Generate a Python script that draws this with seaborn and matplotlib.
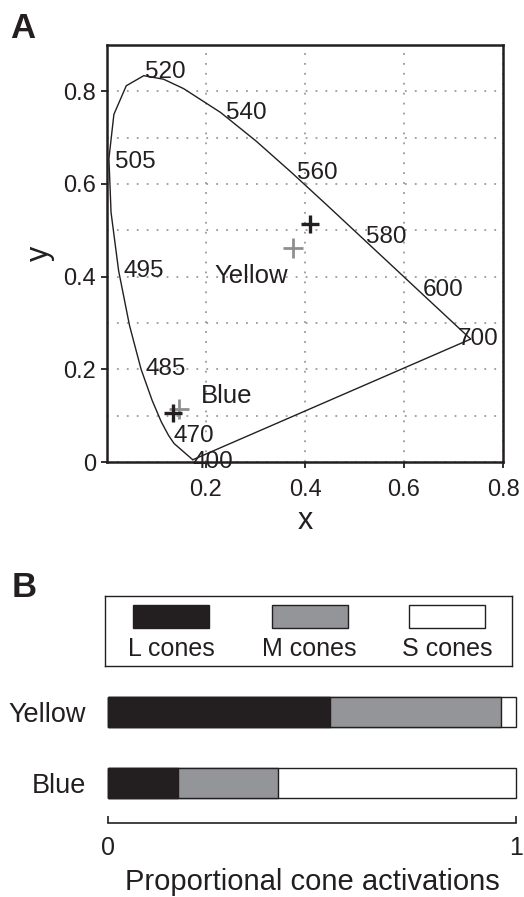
import numpy as np
import pandas as pd
import seaborn as sns
import matplotlib
matplotlib.use("Agg")
import matplotlib.pyplot as plt
from matplotlib.ticker import MultipleLocator, FixedLocator
from matplotlib.patches import Rectangle

# ---------------- data ----------------
wavelengths = [400, 465, 470, 475, 480, 485, 490, 495, 500, 505, 510, 515, 520,
               525, 530, 540, 550, 560, 570, 580, 590, 600, 620, 640, 700]
locus_x = [0.1733, 0.1355, 0.1241, 0.1096, 0.0913, 0.0687, 0.0454, 0.0235, 0.0082,
           0.0039, 0.0139, 0.0389, 0.0743, 0.1142, 0.1547, 0.2296, 0.3016, 0.3731,
           0.4441, 0.5125, 0.5752, 0.6270, 0.6915, 0.7190, 0.7347]
locus_y = [0.0048, 0.0399, 0.0578, 0.0868, 0.1327, 0.2007, 0.2950, 0.4127, 0.5384,
           0.6548, 0.7502, 0.8120, 0.8338, 0.8262, 0.8059, 0.7543, 0.6923, 0.6245,
           0.5547, 0.4866, 0.4242, 0.3725, 0.3083, 0.2809, 0.2653]
label_wavelengths = [400, 470, 485, 495, 505, 520, 540, 560, 580, 600, 700]

stimulus_names = ["Yellow", "Blue"]
stim_x_black = [0.410, 0.134]
stim_y_black = [0.514, 0.105]
stim_x_gray = [0.376, 0.146]
stim_y_gray = [0.462, 0.114]

cone_names = ["L cones", "M cones", "S cones"]
L_act = [0.545, 0.172]
M_act = [0.418, 0.245]
S_act = [0.037, 0.583]

x_ticks = [0.2, 0.4, 0.6, 0.8]
x_ticklabels = ["0.2", "0.4", "0.6", "0.8"]
y_ticks = [0, 0.2, 0.4, 0.6, 0.8]
y_ticklabels = ["0", "0.2", "0.4", "0.6", "0.8"]
bar_ticks = [0, 1]
bar_ticklabels = ["0", "1"]

# ---------------- style ----------------
sns.set_theme(style="white")
plt.rcParams["font.family"] = ["Liberation Sans", "DejaVu Sans"]
DARK = "#231f20"
GRAY = "#939598"
CROSS_GRAY = "#8f8f8f"

fig = plt.figure(figsize=(5.24, 8.97), dpi=100)

# ---------------- panel A ----------------
ax = fig.add_axes([107 / 524, 1 - 462 / 897, 396 / 524, 417 / 897])
ax.set_xlim(0, 0.8)
ax.set_ylim(0, 0.9)

locus = pd.DataFrame({"x": locus_x, "y": locus_y, "nm": wavelengths})
sns.lineplot(data=locus, x="x", y="y", sort=False, estimator=None,
             color=DARK, lw=1.0, ax=ax)
purple = locus.iloc[[len(locus) - 1, 0]]
sns.lineplot(data=purple, x="x", y="y", sort=False, estimator=None,
             color=DARK, lw=1.0, ax=ax)

offsets = {520: (0.003, -0.004, "baseline"), 700: (-0.026, 0.0, "center"),
           400: (0.0, -0.018, "baseline"), 505: (0.012, -0.021, "baseline")}
for nm in label_wavelengths:
    row = locus[locus["nm"] == nm].iloc[0]
    dx, dy, va = offsets.get(nm, (0.010, -0.014, "baseline"))
    ax.text(row["x"] + dx, row["y"] + dy, str(nm), fontsize=17.5,
            ha="left", va=va, color=DARK, zorder=5)

sns.scatterplot(x=stim_x_gray, y=stim_y_gray, marker="+", s=190, color=CROSS_GRAY,
                linewidth=2.0, ax=ax, zorder=6)
sns.scatterplot(x=stim_x_black, y=stim_y_black, marker="+", s=170, color=DARK,
                linewidth=2.4, ax=ax, zorder=7)

ax.text(0.218, 0.387, stimulus_names[0], fontsize=18.5, ha="left", va="baseline", color=DARK)
ax.text(0.190, 0.127, stimulus_names[1], fontsize=18.5, ha="left", va="baseline", color=DARK)

ax.xaxis.set_major_locator(FixedLocator(x_ticks))
ax.set_xticklabels(x_ticklabels)
ax.yaxis.set_major_locator(FixedLocator(y_ticks))
ax.set_yticklabels(y_ticklabels)
ax.yaxis.set_minor_locator(MultipleLocator(0.1))
ax.tick_params(axis="both", which="major", direction="out", length=4, width=1.3,
               labelsize=17, colors=DARK, bottom=True, left=True)
ax.tick_params(axis="x", pad=8)
ax.tick_params(axis="y", pad=4)
ax.tick_params(axis="y", which="minor", length=0)
ax.grid(True, axis="x", which="major", color="#9a9a9a", lw=1.3, linestyle=(0, (1, 4.5)))
ax.grid(True, axis="y", which="both", color="#9a9a9a", lw=1.3, linestyle=(0, (1, 4.5)))
ax.set_axisbelow(True)
for sp in ax.spines.values():
    sp.set_visible(True)
    sp.set_color(DARK)
    sp.set_linewidth(1.8)
ax.set_xlabel("x", fontsize=22, labelpad=4, color=DARK)
ax.set_ylabel("y", fontsize=22, labelpad=6, color=DARK)

fig.text(10 / 524, 1 - 38 / 897, "A", fontsize=25, fontweight="bold", color=DARK,
         ha="left", va="baseline")
fig.text(12 / 524, 1 - 597 / 897, "B", fontsize=25, fontweight="bold", color=DARK,
         ha="left", va="baseline")

# ---------------- panel B: legend box ----------------
lax = fig.add_axes([105 / 524, 1 - 666 / 897, 407 / 524, 70 / 897])
lax.set_xlim(0, 1)
lax.set_ylim(0, 1)
lax.set_xticks([])
lax.set_yticks([])
for sp in lax.spines.values():
    sp.set_visible(True)
    sp.set_color(DARK)
    sp.set_linewidth(1.0)
patch_x = [0.069, 0.410, 0.747]
patch_w = 0.186
for name, px, fc in zip(cone_names, patch_x, [DARK, GRAY, "white"]):
    lax.add_patch(Rectangle((px, 0.543), patch_w, 0.328, facecolor=fc,
                            edgecolor=DARK, lw=1.0))
    lax.text(px + patch_w / 2, 0.143, name, fontsize=18, ha="center",
             va="baseline", color=DARK)

# ---------------- panel B: stacked bars ----------------
axb = fig.add_axes([108 / 524, 1 - 823 / 897, 408 / 524, 153.6 / 897])
bars = pd.DataFrame({"stimulus": stimulus_names, "L": L_act, "M": M_act, "S": S_act})
bars["LM"] = bars["L"] + bars["M"]
bars["LMS"] = bars["LM"] + bars["S"]
for col, fc in [("LMS", "white"), ("LM", GRAY), ("L", DARK)]:
    sns.barplot(data=bars, x=col, y="stimulus", orient="h", color=fc,
                saturation=1, errorbar=None, width=0.41, edgecolor=DARK,
                linewidth=1.0, ax=axb)
for p in axb.patches:
    p.set_clip_on(False)
axb.set_xlim(0, 1)
axb.set_ylim(1.563, -0.6)
axb.set_xticks(bar_ticks)
axb.set_xticklabels(bar_ticklabels)
axb.tick_params(axis="x", direction="in", length=5, width=1.2, pad=9,
                labelsize=18, colors=DARK, bottom=True)
axb.tick_params(axis="y", length=0, pad=16, labelsize=19.5, colors=DARK)
for name in ["top", "right", "left"]:
    axb.spines[name].set_visible(False)
axb.spines["bottom"].set_color(DARK)
axb.spines["bottom"].set_linewidth(1.2)
axb.set_ylabel("")
axb.set_xlabel("Proportional cone activations", fontsize=21, labelpad=6, color=DARK)
axb.set_facecolor("none")

fig.savefig("out.png", dpi=100, facecolor="white")
